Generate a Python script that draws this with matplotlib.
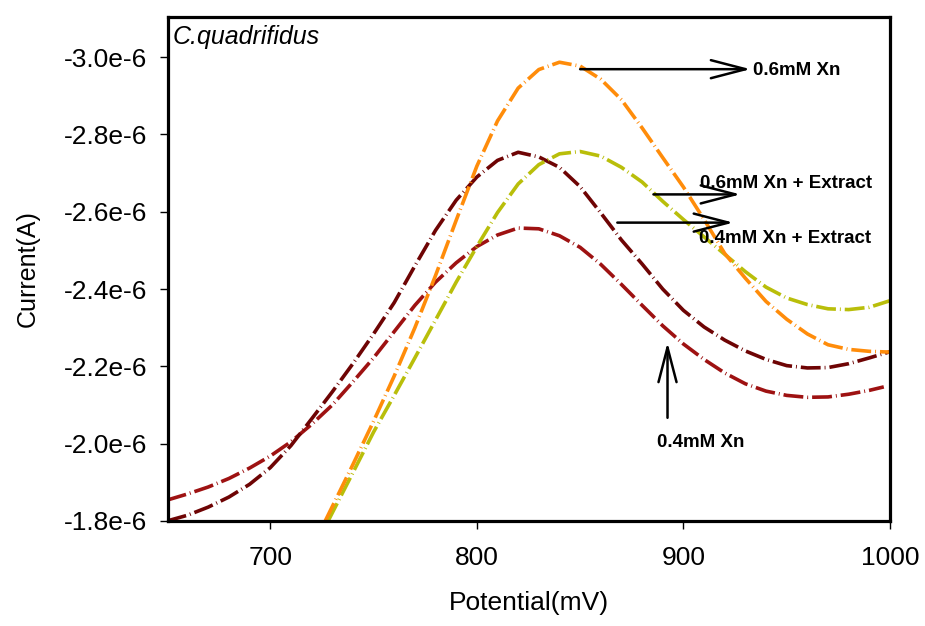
import numpy as np
import matplotlib
matplotlib.use("Agg")
import matplotlib.pyplot as plt

plt.rcParams["font.family"] = ["Liberation Sans", "DejaVu Sans"]

# ---------------------------------------------------------------
# datos (potencial en mV, corriente en uA)
# ---------------------------------------------------------------
x_06 = [726.6, 730, 740, 750, 760, 770, 780, 790, 800, 810, 820, 830, 840, 850,
        860, 870, 880, 890, 900, 910, 920, 930, 940, 950, 960, 970, 980, 990, 1000]
y_06 = [-1.800, -1.837, -1.946, -2.058, -2.175, -2.300, -2.435, -2.578, -2.718, -2.835,
        -2.920, -2.968, -2.987, -2.977, -2.943, -2.890, -2.817, -2.740, -2.664, -2.580,
        -2.492, -2.428, -2.368, -2.322, -2.284, -2.256, -2.244, -2.239, -2.237]

x_06e = [728, 740, 750, 760, 770, 780, 790, 800, 810, 820, 830, 840, 850, 860,
         870, 880, 890, 900, 910, 920, 930, 940, 950, 960, 970, 980, 990, 1000]
y_06e = [-1.800, -1.925, -2.030, -2.125, -2.222, -2.320, -2.418, -2.510, -2.598, -2.672,
         -2.722, -2.750, -2.756, -2.744, -2.715, -2.677, -2.627, -2.580, -2.535, -2.490,
         -2.445, -2.405, -2.377, -2.360, -2.349, -2.347, -2.353, -2.370]

x_04e = [650, 660, 670, 680, 690, 700, 710, 720, 730, 740, 750, 760, 770, 780, 790,
         800, 810, 820, 830, 840, 850, 860, 870, 880, 890, 900, 910, 920, 930, 940,
         950, 960, 970, 980, 990, 1000]
y_04e = [-1.800, -1.815, -1.836, -1.862, -1.895, -1.938, -1.995, -2.064, -2.134, -2.207,
         -2.284, -2.365, -2.460, -2.552, -2.630, -2.690, -2.733, -2.754, -2.742, -2.715,
         -2.665, -2.597, -2.527, -2.465, -2.400, -2.345, -2.302, -2.268, -2.240, -2.218,
         -2.202, -2.196, -2.197, -2.207, -2.222, -2.238]

x_04 = [650, 660, 670, 680, 690, 700, 710, 720, 730, 740, 750, 760, 770, 780, 790,
        800, 810, 820, 830, 840, 850, 860, 870, 880, 890, 900, 910, 920, 930, 940,
        950, 960, 970, 980, 990, 997]
y_04 = [-1.854, -1.870, -1.888, -1.910, -1.937, -1.968, -2.005, -2.050, -2.100, -2.160,
        -2.222, -2.290, -2.358, -2.418, -2.468, -2.510, -2.540, -2.558, -2.556, -2.538,
        -2.508, -2.464, -2.412, -2.358, -2.305, -2.258, -2.218, -2.183, -2.155, -2.136,
        -2.125, -2.120, -2.121, -2.128, -2.138, -2.147]

yticks = [-3.0, -2.8, -2.6, -2.4, -2.2, -2.0, -1.8]
ytick_labels = ["-3.0e-6", "-2.8e-6", "-2.6e-6", "-2.4e-6", "-2.2e-6", "-2.0e-6", "-1.8e-6"]
xticks = [700, 800, 900, 1000]

u = 1e-6

fig = plt.figure(figsize=(9.25, 6.26), dpi=100)
ax = fig.add_axes([168 / 925, 105 / 626, 722 / 925, 504 / 626])

estilo = (0, (5.5, 1.1, 0.25, 1.1))
ax.plot(x_04, np.array(y_04) * u, color="#9E1212", lw=2.6, ls=estilo)
ax.plot(x_04e, np.array(y_04e) * u, color="#6E0404", lw=2.6, ls=estilo)
ax.plot(x_06e, np.array(y_06e) * u, color="#B9BE0A", lw=2.6, ls=estilo)
ax.plot(x_06, np.array(y_06) * u, color="#FF8C0A", lw=2.6, ls=estilo)

ax.set_xlim(650.5, 1000)
ax.set_ylim(-1.8 * u, -3.104 * u)
ax.set_xticks(xticks)
ax.set_yticks(np.array(yticks) * u)
ax.set_yticklabels(ytick_labels)

for s in ax.spines.values():
    s.set_linewidth(2.3)
ax.tick_params(direction="out", length=6, width=1, labelsize=19)
ax.tick_params(axis="y", pad=9)
ax.tick_params(axis="x", pad=12)

ax.set_xlabel("Potential(mV)", fontsize=19, labelpad=15)
ax.set_ylabel("Current(A)", fontsize=18, labelpad=17)

ax.text(0.006, 0.985, "C.quadrifidus", transform=ax.transAxes, fontsize=18,
        style="italic", ha="left", va="top")

# flechas y etiquetas
flecha = dict(arrowstyle="->, head_length=2.5, head_width=0.65", lw=1.8, color="black",
              shrinkA=0, shrinkB=0)
ax.annotate("", xy=(932.5, -2.969 * u), xytext=(850.0, -2.969 * u), arrowprops=flecha)
ax.text(933.5, -2.965 * u, "0.6mM Xn", fontsize=13.5, fontweight="bold", va="center", ha="left")

ax.annotate("", xy=(927.6, -2.645 * u), xytext=(885.5, -2.645 * u), arrowprops=flecha)
ax.text(908.0, -2.672 * u, "0.6mM Xn + Extract", fontsize=13.5, fontweight="bold",
        va="center", ha="left")

ax.annotate("", xy=(924.2, -2.572 * u), xytext=(868.0, -2.572 * u), arrowprops=flecha)
ax.text(907.5, -2.532 * u, "0.4mM Xn + Extract", fontsize=13.5, fontweight="bold",
        va="center", ha="left")

ax.annotate("", xy=(892.3, -2.262 * u), xytext=(892.3, -2.067 * u), arrowprops=flecha)
ax.text(887.0, -2.002 * u, "0.4mM Xn", fontsize=13.5, fontweight="bold", va="center", ha="left")

fig.savefig("out.png", dpi=100)
